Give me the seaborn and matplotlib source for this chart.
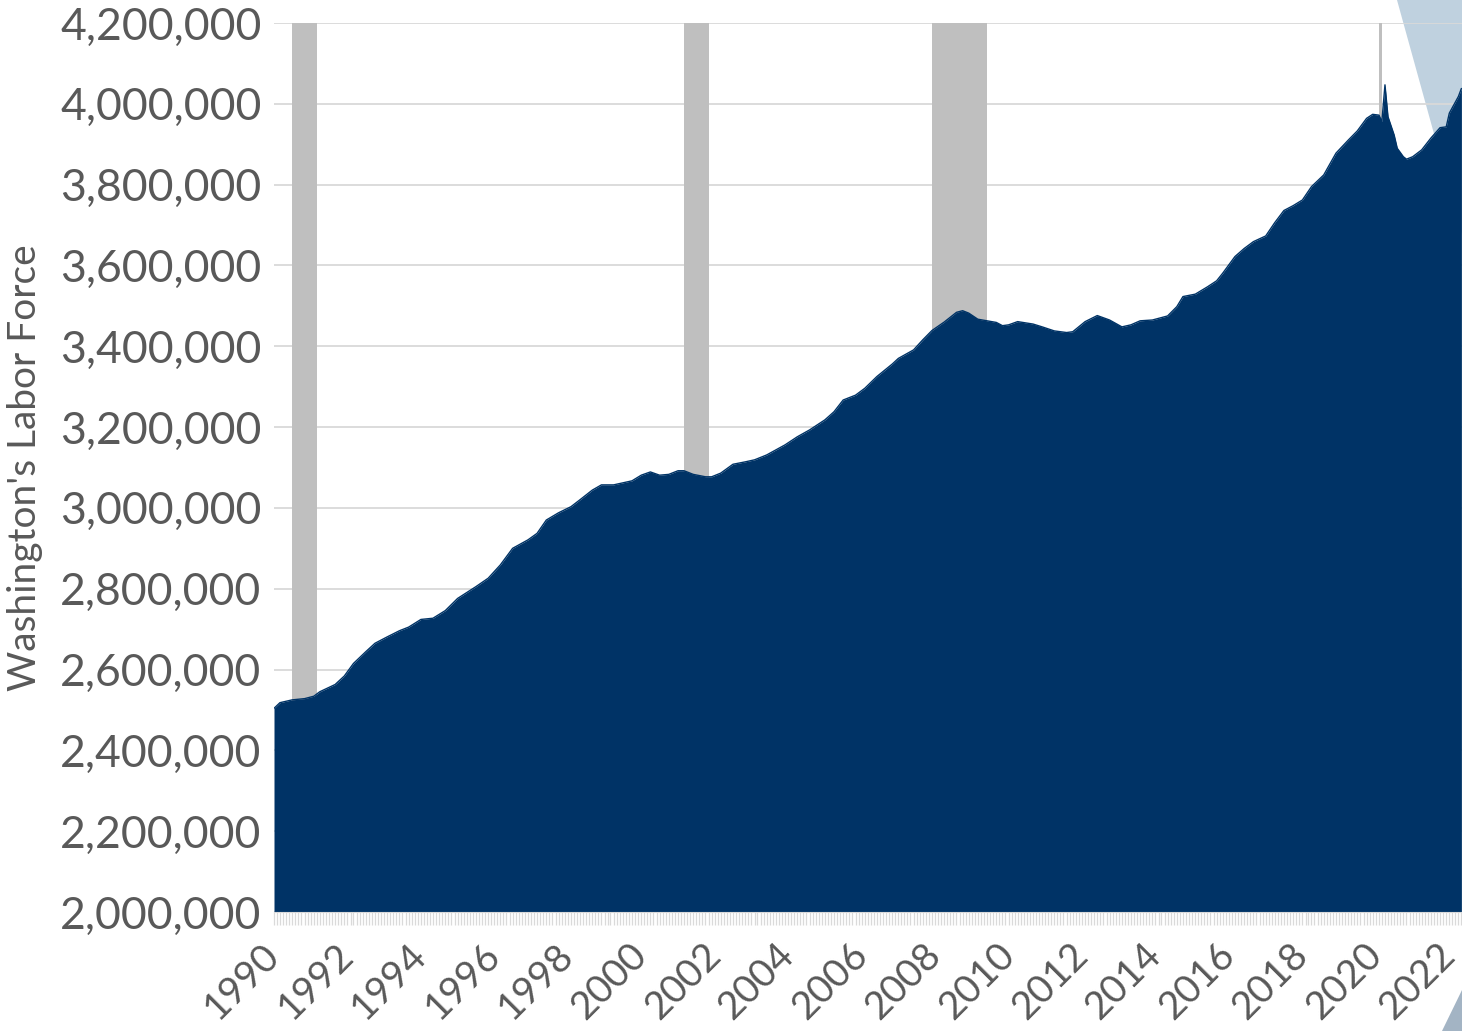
import pandas as pd
import numpy as np
import matplotlib
matplotlib.use('Agg')
import matplotlib.pyplot as plt
import matplotlib.dates as mdates
import matplotlib.ticker as mticker
from matplotlib.patches import Polygon
import seaborn as sns

# values (month, labor force)
meses = ['1990-01', '1990-03', '1990-07', '1990-11', '1991-02', '1991-04', '1991-09', '1991-12',
         '1992-03', '1992-07', '1992-10', '1993-02', '1993-06', '1993-09', '1994-01', '1994-05',
         '1994-09', '1995-01', '1995-07', '1995-11', '1996-03', '1996-07', '1996-12', '1997-03',
         '1997-06', '1997-10', '1998-02', '1998-05', '1998-09', '1998-12', '1999-04', '1999-10',
         '2000-01', '2000-04', '2000-07', '2000-10', '2001-01', '2001-03', '2001-06', '2001-10',
         '2001-12', '2002-03', '2002-07', '2002-11', '2003-02', '2003-06', '2003-12', '2004-04',
         '2004-08', '2005-01', '2005-04', '2005-07', '2005-11', '2006-02', '2006-06', '2006-11',
         '2007-01', '2007-06', '2007-09', '2007-12', '2008-04', '2008-08', '2008-10', '2008-12',
         '2009-03', '2009-09', '2009-11', '2010-01', '2010-04', '2010-09', '2010-12', '2011-04',
         '2011-08', '2011-10', '2012-02', '2012-06', '2012-10', '2013-02', '2013-05', '2013-08',
         '2013-12', '2014-05', '2014-08', '2014-10', '2015-02', '2015-06', '2015-09', '2015-11',
         '2016-03', '2016-06', '2016-09', '2017-01', '2017-04', '2017-07', '2017-10', '2018-01',
         '2018-04', '2018-08', '2018-12', '2019-04', '2019-07', '2019-10', '2019-12', '2020-02',
         '2020-03', '2020-04', '2020-05', '2020-07', '2020-08', '2020-10', '2020-11', '2021-01',
         '2021-04', '2021-07', '2021-10', '2021-12', '2022-01', '2022-04', '2022-05']
forca_trabalho = [2504000, 2518000, 2525000, 2528000, 2534000, 2545000, 2563000, 2584000,
                  2615000, 2644000, 2665000, 2681000, 2696000, 2705000, 2724000, 2727000,
                  2746000, 2776000, 2805000, 2826000, 2859000, 2900000, 2921000, 2937000,
                  2970000, 2988000, 3003000, 3020000, 3044000, 3057000, 3057000, 3067000,
                  3081000, 3089000, 3081000, 3083000, 3092000, 3092000, 3083000, 3077000,
                  3077000, 3086000, 3108000, 3114000, 3119000, 3131000, 3156000, 3176000,
                  3193000, 3218000, 3238000, 3267000, 3279000, 3296000, 3325000, 3356000,
                  3370000, 3391000, 3416000, 3439000, 3460000, 3484000, 3488000, 3482000,
                  3467000, 3459000, 3451000, 3453000, 3461000, 3455000, 3448000, 3438000,
                  3434000, 3436000, 3461000, 3476000, 3465000, 3448000, 3453000, 3463000,
                  3465000, 3475000, 3498000, 3523000, 3529000, 3547000, 3562000, 3581000,
                  3622000, 3642000, 3659000, 3673000, 3706000, 3736000, 3748000, 3762000,
                  3795000, 3824000, 3878000, 3910000, 3933000, 3964000, 3974000, 3972000,
                  3956000, 4047000, 3968000, 3923000, 3890000, 3869000, 3863000, 3869000,
                  3886000, 3915000, 3941000, 3943000, 3977000, 4018000, 4038000]

# recession periods (grey bars)
recessao_inicio = ['1990-07', '2001-03', '2007-12', '2020-02']
recessao_fim = ['1991-03', '2001-11', '2009-06', '2020-03']

y_ticks = list(range(2000000, 4200001, 200000))

df = pd.DataFrame({'Mes': pd.to_datetime(meses), 'Forca': forca_trabalho})

sns.set_style('white')
plt.rcParams['font.family'] = ['Lato', 'DejaVu Sans']
cinza_texto = '#595959'
azul = '#003366'

fig = plt.figure(figsize=(14.62, 10.31), dpi=100)
ax = fig.add_axes([274 / 1462, 119 / 1031, 1 - 274 / 1462, (1008 - 119) / 1031])
ax.set_facecolor('none')

# decorative shapes in the corners
fig.patches.append(Polygon([(1397 / 1462, 1), (1, 1), (1, 1 - 235 / 1031)], closed=True,
                           transform=fig.transFigure, facecolor='#bfd1df', edgecolor='none', zorder=-5))
fig.patches.append(Polygon([(1, 41 / 1031), (1, 0), (1442 / 1462, 0)], closed=True,
                           transform=fig.transFigure, facecolor='#a3b4c4', edgecolor='none', zorder=-5))

for ini, fim in zip(recessao_inicio, recessao_fim):
    ax.axvspan(pd.Timestamp(ini), pd.Timestamp(fim), color='#bfbfbf', lw=0, zorder=1)

ax.fill_between(df['Mes'], 2000000, df['Forca'], color=azul, lw=0, zorder=2)
sns.lineplot(data=df, x='Mes', y='Forca', color=azul, lw=1, ax=ax, zorder=3)

ax.set_ylim(2000000, 4200000)
ax.set_xlim(pd.Timestamp('1990-01-01'), pd.Timestamp('2022-05-07'))
ax.set_yticks(y_ticks)
ax.yaxis.set_major_formatter(mticker.FuncFormatter(lambda v, p: f'{int(v):,}'))
ax.grid(axis='y', color='#d9d9d9', lw=1.3, zorder=0)
ax.set_axisbelow(True)

# monthly ticks make the light striped band under the axis
ax.xaxis.set_major_locator(mdates.YearLocator(2))
ax.xaxis.set_minor_locator(mdates.MonthLocator())
ax.xaxis.set_major_formatter(mdates.DateFormatter('%Y'))
ax.tick_params(axis='x', which='both', bottom=True, length=9, width=0.9, color='#dadada', direction='out')
ax.tick_params(axis='x', which='major', labelsize=28, labelcolor=cinza_texto, pad=18)
ax.tick_params(axis='y', length=0, labelsize=32, labelcolor=cinza_texto, pad=9)
for lbl in ax.get_xticklabels():
    lbl.set_rotation(45)
    lbl.set_ha('right')
    lbl.set_va('center')
    lbl.set_rotation_mode('anchor')

for s in ['left', 'right', 'top']:
    ax.spines[s].set_visible(False)
ax.spines['bottom'].set_color('#d9d9d9')

ax.set_xlabel('')
ax.set_ylabel("Washington's Labor Force", fontsize=28, color=cinza_texto, labelpad=12)

fig.savefig('out.png', dpi=100)
